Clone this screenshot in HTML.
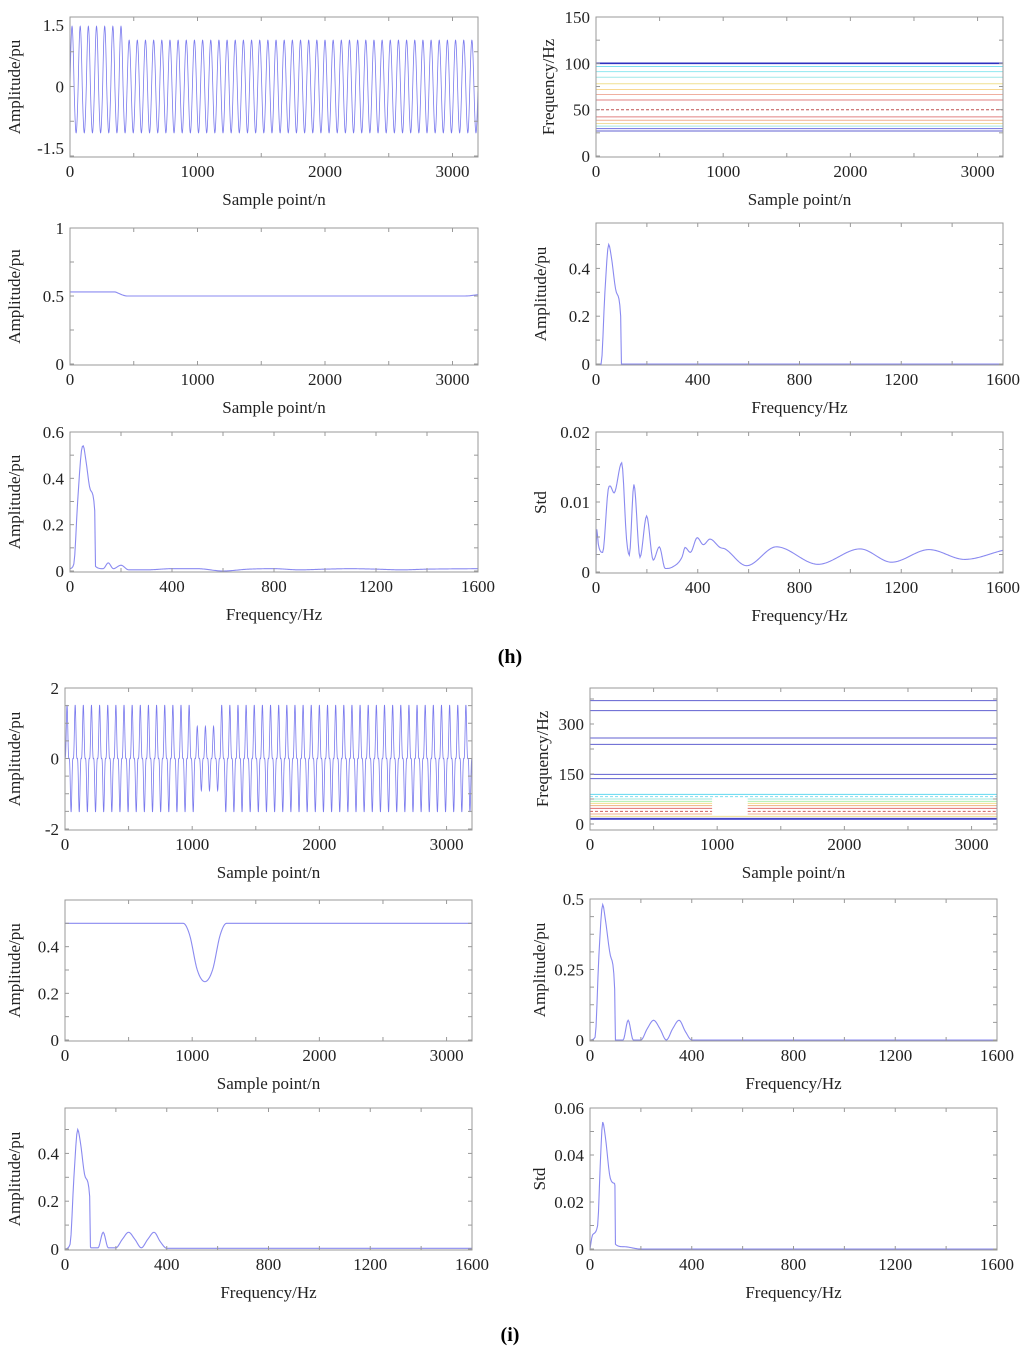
<!DOCTYPE html>
<html><head><meta charset="utf-8">
<style>
html,body{margin:0;padding:0;background:#fff;}
svg{display:block;font-family:"Liberation Serif",serif;}
</style></head>
<body>
<svg id="fig" width="1024" height="1355" viewBox="0 0 1024 1355" xmlns="http://www.w3.org/2000/svg">
<text x="510" y="663" font-size="20" font-weight="bold" text-anchor="middle">(h)</text>
<text x="510" y="1341" font-size="20" font-weight="bold" text-anchor="middle">(i)</text>
</svg>
<script>
// ---------- data ----------
const waveCyclesH = [1.3,1.3,1.3,1.3,1.3,1.3,1.3,1,1,1,1,1,1,1,1,1,1,1,1,1,1,1,1,1,1,1,1,1,1,1,1,1,1,1,1,1,1,1,1,1,1,1,1,1,1,1,1,1,1,1];
const waveCyclesI = [1,1,1,1,1,1,1,1,1,1,1,1,1,1,1,1,0.6,0.6,0.6,1,1,1,1,1,1,1,1,1,1,1,1,1,1,1,1,1,1,1,1,1,1,1,1,1,1,1,1,1,1,1];
const contourLevelsH = [100,96.6,91,85,78,71.7,66.4,60.4,49.9,42.2,38.6,35.1,32.3,29.5,27];
const contourColorsH = ["#3030c0","#80e0f0","#90e8f0","#a0e8e8","#f0e090","#f8d890","#f0b0a0","#e08080","#c05050","#e08080","#f0b090","#f0e0a0","#a0e8e8","#7070e0","#6060d0"];
const contourLevelsI = [370,340,258,239,149,136,89,82,75,68,62,55,47,38,30,23,17,14];
const contourColorsI = ["#6060d0","#6060d0","#6060d0","#6060d0","#6060d0","#6060d0","#60d8f0","#80e0f0","#a0e8e0","#b0f0b0","#f0e090","#f0b080","#e07070","#d06060","#f0b090","#f0e090","#3030c0","#5050d0"];
const envXH = [0,350,380,420,450,3100,3200];
const envYH = [0.53,0.53,0.52,0.505,0.5,0.5,0.51];
const envXI = [0,930,980,1040,1100,1160,1220,1270,3200];
const envYI = [0.5,0.5,0.45,0.3,0.25,0.3,0.45,0.5,0.5];
const specXH2 = [0,20,35,50,60,80,97,100,103,1600];
const specYH2 = [0,0,0.3,0.5,0.45,0.3,0.2,0,0,0];
const specXH3 = [0,15,30,45,52,62,80,97,100,130,150,170,200,230,300,400,500,600,700,800,900,1000,1100,1200,1300,1400,1600];
const specYH3 = [0.01,0.03,0.3,0.52,0.54,0.48,0.35,0.26,0.02,0.01,0.035,0.01,0.025,0.005,0.005,0.01,0.01,0.0,0.008,0.01,0.005,0.008,0.01,0.008,0.005,0.008,0.01];
const stdXH = [0,3,9,26,48,55,71,101,120,131,149,173,199,225,249,272,300,339,350,371,398,422,448,488,507,592,709,873,1038,1162,1309,1449,1600];
const stdYH = [0.0019,0.0061,0.004,0.0028,0.0118,0.0123,0.0113,0.0156,0.0047,0.0024,0.0125,0.0021,0.008,0.0017,0.0036,0.0005,0.0007,0.0022,0.0035,0.0028,0.0049,0.0039,0.0047,0.0035,0.0033,0.0009,0.0036,0.0011,0.0033,0.0014,0.0032,0.0018,0.0031];
const specXI2 = [0,20,35,50,60,80,97,100,103,130,150,170,200,225,250,275,300,325,350,375,400,1600];
const specYI2 = [0,0.01,0.3,0.48,0.43,0.3,0.18,0,0,0,0.07,0,0,0.04,0.07,0.04,0,0.04,0.07,0.03,0,0];
const specXI3 = [0,20,35,50,60,80,97,100,103,130,150,170,200,225,250,275,300,325,350,375,400,1600];
const specYI3 = [0,0.02,0.3,0.5,0.45,0.3,0.22,0.01,0.005,0.005,0.07,0.005,0.005,0.04,0.07,0.04,0.005,0.04,0.07,0.03,0.003,0.003];
const stdXI = [0,10,30,40,50,60,80,95,98,100,130,200,1600];
const stdYI = [0,0.006,0.01,0.035,0.054,0.048,0.03,0.028,0.027,0.002,0.001,0,0];

// ---------- helpers ----------
const NS="http://www.w3.org/2000/svg";
const svg=document.getElementById('fig');
const defs=document.createElementNS(NS,'defs');svg.appendChild(defs);
function mk(tag,attrs,parent){const e=document.createElementNS(NS,tag);for(const k in attrs)e.setAttribute(k,attrs[k]);(parent||svg).appendChild(e);return e;}
let clipN=0;
function axes(p){
  const g=mk('g',{});
  
  
  const sx=v=>p.x0+(v-p.xl[0])/(p.xl[1]-p.xl[0])*(p.x1-p.x0);
  const sy=v=>p.y1-1-(v-p.yl[0])/(p.yl[1]-p.yl[0])*(p.y1-1-p.y0);
  const id='clip'+(clipN++);
  const cp=mk('clipPath',{id:id},defs);mk('rect',{x:p.x0,y:p.y0,width:p.x1-p.x0,height:p.y1-p.y0+1},cp);
  const dg=mk('g',{'clip-path':`url(#${id})`},g);
  
  
  const box=mk('rect',{x:p.x0,y:p.y0,width:p.x1-p.x0,height:p.y1-p.y0,fill:'none',stroke:'#999','stroke-width':1},g);
  
  
  const tk=[];
  for(let v=p.xl[0];v<=p.xl[1]+1e-9;v+=p.xm)tk.push(['x',v]);
  for(let i=0;i<p.ym.length;i++)tk.push(['y',p.ym[i]]);
  tk.forEach(([a,v])=>{
    if(a==='x'){const X=sx(v);mk('line',{x1:X,x2:X,y1:p.y1,y2:p.y1-4,stroke:'#999'},g);mk('line',{x1:X,x2:X,y1:p.y0,y2:p.y0+4,stroke:'#999'},g);}
    else{const Y=sy(v);mk('line',{x1:p.x0,x2:p.x0+4,y1:Y,y2:Y,stroke:'#999'},g);mk('line',{x1:p.x1,x2:p.x1-4,y1:Y,y2:Y,stroke:'#999'},g);}
  });
  p.xt.forEach(v=>{const t=mk('text',{x:sx(v),y:p.y1+20,'font-size':17,'text-anchor':'middle',fill:'#222'},g);t.textContent=String(v);
    });
  p.yt.forEach((v,i)=>{const t=mk('text',{x:p.x0-6,y:sy(v)+6+(p.ytOff?p.ytOff[i]:0),'font-size':17,'text-anchor':'end',fill:'#222'},g);t.textContent=p.ytl?p.ytl[i]:String(v);
    });
  const xt=mk('text',{x:(p.x0+p.x1)/2,y:p.y1+48,'font-size':17,'text-anchor':'middle',fill:'#222'},g);xt.textContent=p.xlab;
  
  const cy=(p.y0+p.y1)/2, cx=p.x0-(p.ylx||50);
  const yt=mk('text',{x:cx,y:cy,'font-size':17,'text-anchor':'middle',fill:'#222',transform:`rotate(-90 ${cx} ${cy})`},g);yt.textContent=p.ylab;
  
  return {g:dg,sx,sy,p};
}
// monotone cubic (Fritsch-Carlson) in x, sampled densely
function smooth(ax,xs,ys,color,name){
  const n=xs.length, d=[], m=new Array(n);
  for(let i=0;i<n-1;i++)d.push((ys[i+1]-ys[i])/(xs[i+1]-xs[i]));
  m[0]=d[0];m[n-1]=d[n-2];
  for(let i=1;i<n-1;i++){m[i]=(d[i-1]*d[i]<=0)?0:(d[i-1]+d[i])/2;}
  for(let i=0;i<n-1;i++){
    if(d[i]===0){m[i]=0;m[i+1]=0;continue;}
    const a=m[i]/d[i],b=m[i+1]/d[i],s=a*a+b*b;
    if(s>9){const t=3/Math.sqrt(s);m[i]=t*a*d[i];m[i+1]=t*b*d[i];}
  }
  let path='';
  for(let i=0;i<n-1;i++){
    const h=xs[i+1]-xs[i];
    const steps=Math.max(2,Math.ceil(Math.abs(ax.sx(xs[i+1])-ax.sx(xs[i]))));
    for(let k=(i?1:0);k<=steps;k++){
      const t=k/steps,t2=t*t,t3=t2*t;
      const y=(2*t3-3*t2+1)*ys[i]+(t3-2*t2+t)*h*m[i]+(-2*t3+3*t2)*ys[i+1]+(t3-t2)*h*m[i+1];
      const x=xs[i]+t*h;
      path+=(path?'L':'M')+ax.sx(x).toFixed(2)+','+ax.sy(y).toFixed(2);
    }
  }
  const e=mk('path',{d:path,fill:'none',stroke:color||'#8a8af0','stroke-width':1.1},ax.g);
  
  
}
function wave(ax,cycles,harm,name,posOnly){
  let d='';
  const per=64;
  for(let c=0;c<cycles.length;c++){
    for(let k=0;k<per;k+=1){
      const n=c*per+k, t=2*Math.PI*k/per;
      const base=Math.sin(t)*(1+harm*0.3)-harm*Math.sin(3*t);
      const sc=(posOnly&&base<0)?1:cycles[c];
      const v=sc*base;
      d+=(n?'L':'M')+ax.sx(n).toFixed(2)+','+ax.sy(v).toFixed(2);
    }
  }
  const e=mk('path',{d,fill:'none',stroke:'#7a7aee','stroke-width':0.8},ax.g);
  
  
}
function contours(ax,levels,colors,gapLo,gapHi,gapA,gapB,name,dashedIdx){
  levels.forEach((lv,i)=>{
    const Y=ax.sy(lv);
    const attrs={stroke:colors[i],'stroke-width':i===0&&name==='contour-h'?1.6:1,fill:'none'};
    if(dashedIdx.indexOf(i)>=0)attrs['stroke-dasharray']='3 2';
    let segs=[[0,3200]];
    if(lv>gapLo&&lv<gapHi)segs=[[0,gapA],[gapB,3200]];
    segs.forEach(s=>{
      const e=mk('line',Object.assign({x1:ax.sx(s[0]),x2:ax.sx(s[1]),y1:Y,y2:Y},attrs),ax.g);
      
      
    });
  });
}
const LX0=70,LX1=478,RX0=596,RX1=1003;
let a;
// ---------- panel h ----------
a=axes({name:'h-signal-plot',x0:LX0,x1:LX1,y0:17,y1:157,xl:[0,3200],yl:[-1.5,1.5],xm:500,ym:[-1.5,-0.75,0,0.75,1.5],xt:[0,1000,2000,3000],yt:[1.5,0,-1.5],ytOff:[8,0,-8],ytl:['1.5','0','-1.5'],xlab:'Sample point/n',ylab:'Amplitude/pu',ylx:50});
wave(a,waveCyclesH,0,'h-signal-line',true);
a=axes({name:'h-contour-plot',x0:RX0,x1:RX1,y0:17,y1:157,xl:[0,3200],yl:[0,150],xm:500,ym:[0,25,50,75,100,125,150],xt:[0,1000,2000,3000],yt:[150,100,50,0],xlab:'Sample point/n',ylab:'Frequency/Hz',ylx:42});
contours(a,contourLevelsH,contourColorsH,1000,1000,0,0,'contour-h',[8]);
a=axes({name:'h-envelope-plot',x0:LX0,x1:LX1,y0:228,y1:365,xl:[0,3200],yl:[0,1],xm:500,ym:[0,0.25,0.5,0.75,1],xt:[0,1000,2000,3000],yt:[1,0.5,0],ytl:['1','0.5','0'],xlab:'Sample point/n',ylab:'Amplitude/pu',ylx:50});
smooth(a,envXH,envYH,'#8a8af0','h-envelope-line');
a=axes({name:'h-spectrum-plot',x0:RX0,x1:RX1,y0:223,y1:365,xl:[0,1600],yl:[0,0.59],xm:200,ym:[0,0.1,0.2,0.3,0.4,0.5],xt:[0,400,800,1200,1600],yt:[0.4,0.2,0],ytl:['0.4','0.2','0'],xlab:'Frequency/Hz',ylab:'Amplitude/pu',ylx:50});
smooth(a,specXH2,specYH2,'#8a8af0','h-spectrum-line');
a=axes({name:'h-mean-spectrum-plot',x0:LX0,x1:LX1,y0:432,y1:572,xl:[0,1600],yl:[0,0.6],xm:200,ym:[0,0.1,0.2,0.3,0.4,0.5,0.6],xt:[0,400,800,1200,1600],yt:[0.6,0.4,0.2,0],ytl:['0.6','0.4','0.2','0'],xlab:'Frequency/Hz',ylab:'Amplitude/pu',ylx:50});
smooth(a,specXH3,specYH3,'#8a8af0','h-mean-spectrum-line');
a=axes({name:'h-std-plot',x0:RX0,x1:RX1,y0:432,y1:573,xl:[0,1600],yl:[0,0.02],xm:200,ym:[0,0.0025,0.005,0.0075,0.01,0.0125,0.015,0.0175,0.02],xt:[0,400,800,1200,1600],yt:[0.02,0.01,0],ytl:['0.02','0.01','0'],xlab:'Frequency/Hz',ylab:'Std',ylx:50});
smooth(a,stdXH,stdYH,'#8a8af0','h-std-line');
// ---------- panel i ----------
a=axes({name:'i-signal-plot',x0:65,x1:472,y0:688,y1:830,xl:[0,3200],yl:[-2,2],xm:500,ym:[-2,-1.5,-1,-0.5,0,0.5,1,1.5,2],xt:[0,1000,2000,3000],yt:[2,0,-2],ytl:['2','0','-2'],xlab:'Sample point/n',ylab:'Amplitude/pu',ylx:45});
wave(a,waveCyclesI,0.4,'i-signal-line',false);
a=axes({name:'i-contour-plot',x0:590,x1:997,y0:688,y1:830,xl:[0,3200],yl:[-15,408],xm:500,ym:[0,75,150,225,300,375],xt:[0,1000,2000,3000],yt:[300,150,0],xlab:'Sample point/n',ylab:'Frequency/Hz',ylx:42});
contours(a,contourLevelsI,contourColorsI,25,80,960,1240,'contour-i',[7,13]);
a=axes({name:'i-envelope-plot',x0:65,x1:472,y0:900,y1:1041,xl:[0,3200],yl:[0,0.6],xm:500,ym:[0,0.1,0.2,0.3,0.4,0.5],xt:[0,1000,2000,3000],yt:[0.4,0.2,0],ytl:['0.4','0.2','0'],xlab:'Sample point/n',ylab:'Amplitude/pu',ylx:45});
smooth(a,envXI,envYI,'#8a8af0','i-envelope-line');
a=axes({name:'i-spectrum-plot',x0:590,x1:997,y0:899,y1:1041,xl:[0,1600],yl:[0,0.5],xm:200,ym:[0,0.0625,0.125,0.1875,0.25,0.3125,0.375,0.4375,0.5],xt:[0,400,800,1200,1600],yt:[0.5,0.25,0],ytl:['0.5','0.25','0'],xlab:'Frequency/Hz',ylab:'Amplitude/pu',ylx:45});
smooth(a,specXI2,specYI2,'#8a8af0','i-spectrum-line');
a=axes({name:'i-mean-spectrum-plot',x0:65,x1:472,y0:1108,y1:1250,xl:[0,1600],yl:[0,0.59],xm:200,ym:[0,0.1,0.2,0.3,0.4,0.5],xt:[0,400,800,1200,1600],yt:[0.4,0.2,0],ytl:['0.4','0.2','0'],xlab:'Frequency/Hz',ylab:'Amplitude/pu',ylx:45});
smooth(a,specXI3,specYI3,'#8a8af0','i-mean-spectrum-line');
a=axes({name:'i-std-plot',x0:590,x1:997,y0:1108,y1:1250,xl:[0,1600],yl:[0,0.06],xm:200,ym:[0,0.01,0.02,0.03,0.04,0.05,0.06],xt:[0,400,800,1200,1600],yt:[0.06,0.04,0.02,0],ytl:['0.06','0.04','0.02','0'],xlab:'Frequency/Hz',ylab:'Std',ylx:45});
smooth(a,stdXI,stdYI,'#8a8af0','i-std-line');
</script>
</body></html>
